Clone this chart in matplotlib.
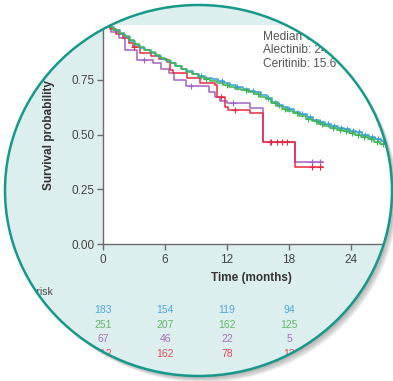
import numpy as np
import matplotlib
matplotlib.use("Agg")
import matplotlib.pyplot as plt
from matplotlib.path import Path
from matplotlib.patches import PathPatch, Ellipse
from matplotlib.transforms import blended_transform_factory

plt.rcParams['font.family'] = ['Liberation Sans', 'DejaVu Sans']

# ---------------- data ----------------
blue_t = [0, 0.6, 1.1, 1.6, 2.1, 2.6, 3.1, 3.6, 4.1, 4.6, 5.1, 5.6, 6.1, 6.6, 7.1, 7.6, 8.1, 8.7, 9.3, 9.9,
          10.5, 11.1, 11.7, 12.3, 12.9, 13.5, 14.1, 14.7, 15.3, 15.9, 16.4, 16.9, 17.4, 17.9, 18.5, 19.1,
          19.7, 20.3, 20.9, 21.5, 22.1, 22.7, 23.3, 23.9, 24.5, 25.1, 25.7, 26.3, 26.9, 27.5]
blue_s = [1.0, 0.99, 0.975, 0.96, 0.945, 0.925, 0.91, 0.895, 0.885, 0.872, 0.86, 0.847, 0.835, 0.825,
          0.813, 0.80, 0.79, 0.778, 0.768, 0.758, 0.752, 0.745, 0.735, 0.727, 0.718, 0.71, 0.70, 0.692,
          0.68, 0.667, 0.65, 0.635, 0.625, 0.615, 0.605, 0.595, 0.58, 0.568, 0.558, 0.548, 0.538, 0.53,
          0.524, 0.518, 0.51, 0.50, 0.49, 0.48, 0.472, 0.465]
blue_cens = [9.5, 11.5, 13.0, 14.5, 16.0, 17.0, 18.0, 19.3, 20.0, 21.0, 21.8, 22.4, 23.0, 23.6, 24.2,
             24.8, 25.4, 26.0, 26.6, 27.2]

green_t = [0, 0.5, 1.0, 1.5, 2.0, 2.5, 3.0, 3.5, 4.0, 4.5, 5.0, 5.5, 6.0, 6.5, 7.0, 7.5, 8.0, 8.6, 9.2,
           9.8, 10.4, 11.0, 11.6, 12.2, 12.8, 13.4, 14.0, 14.6, 15.2, 15.8, 16.3, 16.8, 17.3, 17.8, 18.4,
           19.0, 19.6, 20.2, 20.8, 21.4, 22.0, 22.6, 23.2, 23.8, 24.4, 25.0, 25.6, 26.2, 26.8, 27.4, 28.5]
green_s = [1.0, 0.99, 0.975, 0.962, 0.948, 0.93, 0.915, 0.90, 0.888, 0.875, 0.862, 0.85, 0.838, 0.826,
           0.812, 0.80, 0.787, 0.775, 0.763, 0.752, 0.744, 0.736, 0.727, 0.718, 0.71, 0.702, 0.693, 0.683,
           0.672, 0.66, 0.643, 0.628, 0.617, 0.607, 0.597, 0.586, 0.572, 0.56, 0.55, 0.54, 0.53, 0.522,
           0.515, 0.508, 0.50, 0.49, 0.48, 0.468, 0.458, 0.452, 0.452]
green_cens = [10.0, 12.0, 13.8, 15.0, 16.6, 17.6, 18.8, 19.8, 20.6, 21.2, 22.3, 22.9, 23.5, 24.1, 24.7,
              25.3, 25.9, 26.5, 27.1]

purple_t = [0, 0.8, 1.5, 2.1, 3.3, 4.8, 5.6, 6.4, 6.9, 8.0, 10.3, 10.8, 11.3, 12.0, 14.2, 15.5, 18.6, 21.3]
purple_s = [1.0, 0.97, 0.94, 0.886, 0.84, 0.825, 0.80, 0.78, 0.75, 0.72, 0.695, 0.67, 0.655, 0.645,
            0.62, 0.465, 0.375, 0.375]
purple_cens = [4.0, 8.5, 12.6, 16.2, 20.2, 21.0]

red_t = [0, 0.7, 1.3, 1.9, 2.5, 2.9, 3.6, 4.6, 5.4, 6.2, 6.5, 6.8, 8.1, 9.4, 10.8, 11.0, 11.8, 12.1,
         14.2, 15.5, 18.6, 21.3]
red_s = [1.0, 0.98, 0.96, 0.94, 0.92, 0.90, 0.87, 0.86, 0.845, 0.83, 0.795, 0.78, 0.76, 0.735, 0.726,
         0.67, 0.626, 0.61, 0.60, 0.465, 0.35, 0.35]
red_cens = [3.0, 11.4, 12.8, 16.3, 16.8, 17.3, 17.8, 20.2, 21.0]

x_ticks = [0, 6, 12, 18, 24]
y_ticks = [0.0, 0.25, 0.50, 0.75, 1.0]
y_ticklabels = ['0.00', '0.25', '0.50', '0.75', '1.00']

risk_times = [0, 6, 12, 18]
risk_blue = ['183', '154', '119', '94']
risk_green = ['251', '207', '162', '125']
risk_purple = ['67', '46', '22', '5']
risk_red = ['212', '162', '78', '13']

median_lines = ['Median OS (months)', 'Alectinib: 24.3', 'Ceritinib: 15.6']

c_blue = '#3a9fdc'
c_green = '#3db44e'
c_purple = '#a264c2'
c_red = '#e8283f'

# ---------------- figure ----------------
W, H = 393, 381
fig = plt.figure(figsize=(W / 100, H / 100), dpi=100, facecolor='#dcefee')

def fx(px):
    return px / W

def fy(py):
    return 1 - py / H

ax_l, ax_r, ax_t, ax_b = 103, 397.5, 25, 244
ax = fig.add_axes([fx(ax_l), fy(ax_b), (ax_r - ax_l) / W, (ax_b - ax_t) / H])
ax.set_facecolor('white')
ax.set_xlim(0, 28.5)
ax.set_ylim(0, 1)

def step_val(t, s, c):
    i = np.searchsorted(np.asarray(t), c, side='right') - 1
    return np.asarray(s)[i]

for t, s, cens, col in [(purple_t, purple_s, purple_cens, c_purple),
                        (red_t, red_s, red_cens, c_red),
                        (blue_t, blue_s, blue_cens, c_blue),
                        (green_t, green_s, green_cens, c_green)]:
    ax.step(t, s, where='post', color=col, lw=1.1)
    ax.plot(cens, [step_val(t, s, c) for c in cens], ls='none', marker='+',
            ms=4, mew=0.8, color=col)

for sp in ['top', 'right']:
    ax.spines[sp].set_visible(False)
for sp in ['left', 'bottom']:
    ax.spines[sp].set_color('#6a6a6a')
    ax.spines[sp].set_linewidth(1.0)

ax.set_xticks(x_ticks)
ax.set_yticks(y_ticks)
ax.set_yticklabels(y_ticklabels)
ax.tick_params(axis='both', direction='out', length=4, width=1.0, color='#6a6a6a',
               labelcolor='#444444', labelsize=8.5)
ax.tick_params(axis='x', pad=3)
ax.tick_params(axis='y', pad=2)

fig.text(fx(49), fy(135), 'Survival probability', rotation=90, ha='center', va='center',
         fontsize=8.5, fontweight='bold', color='#333333')
fig.text(fx(251), fy(278), 'Time (months)', ha='center', va='center',
         fontsize=8.5, fontweight='bold', color='#333333')

for i, line in enumerate(median_lines):
    fig.text(fx(263), fy(37 + 13.3 * i), line, ha='left', va='center', fontsize=8.6, color='#555555')

fig.text(fx(53), fy(292), 'Number at risk', ha='right', va='center', fontsize=7.5, color='#444444')

tr = blended_transform_factory(ax.transData, fig.transFigure)
for row_y, vals, col in [(310, risk_blue, '#4ea6dc'), (325, risk_green, '#62b866'),
                         (339, risk_purple, '#a26fba'), (354, risk_red, '#e34a55')]:
    for t, v in zip(risk_times, vals):
        fig.text(t, fy(row_y), v, transform=tr, ha='center', va='center', fontsize=7.5, color=col)

# ---------------- circular frame ----------------
cx, cy, rx, ry = 198.5, 190.5, 193.5, 185.5
theta = np.linspace(0, 2 * np.pi, 400)
ell = np.column_stack([fx(cx + rx * np.cos(theta)), fy(cy + ry * np.sin(theta))])
rect = np.array([[-0.1, -0.1], [-0.1, 1.1], [1.1, 1.1], [1.1, -0.1], [-0.1, -0.1]])
verts = np.vstack([rect, ell[::-1], ell[:1]])
codes = ([Path.MOVETO] + [Path.LINETO] * 3 + [Path.CLOSEPOLY] +
         [Path.MOVETO] + [Path.LINETO] * (len(ell) - 1) + [Path.CLOSEPOLY])
mask = PathPatch(Path(verts, codes), facecolor='white', edgecolor='none',
                 transform=fig.transFigure, zorder=50)
fig.add_artist(mask)

for k in range(1, 8):
    sh = Ellipse((fx(cx + k * 0.8), fy(cy + k * 0.9)), 2 * rx / W, 2 * ry / H,
                 transform=fig.transFigure, facecolor='#707070', edgecolor='none',
                 alpha=0.1, zorder=51)
    fig.add_artist(sh)
    sh.set_clip_path(mask)

ring = Ellipse((fx(cx), fy(cy)), 2 * rx / W, 2 * ry / H, transform=fig.transFigure,
               facecolor='none', edgecolor='#16998b', lw=1.8, zorder=52)
fig.add_artist(ring)

fig.savefig('out.png', dpi=100, facecolor=fig.get_facecolor())
